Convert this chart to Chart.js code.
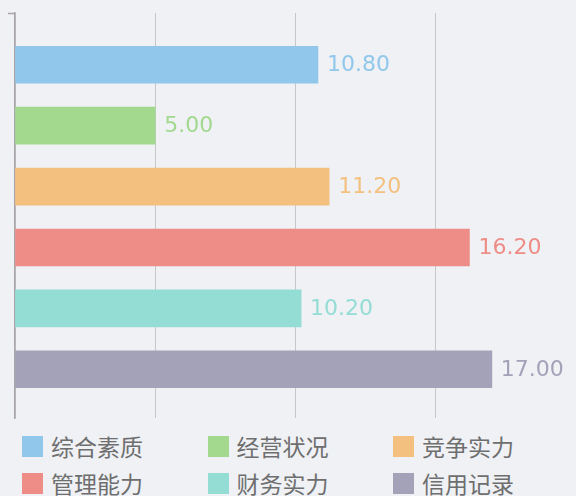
<!DOCTYPE html>
<html>
<head>
<meta charset="utf-8">
<script src="https://cdn.jsdelivr.net/npm/chart.js@4"></script>
<style>
  body { margin: 0; background: #eff1f5; width: 576px; height: 496px; overflow: hidden; position: relative; }
  #wrap { position: absolute; left: 0; top: 0; width: 576px; height: 425px; }
  #legend { position: absolute; left: 0; top: 436px; width: 576px; }
  .item { position: absolute; height: 21px; white-space: nowrap; }
  .box { position: absolute; left: 0; top: 0; width: 21px; height: 21px; }
  .txt { position: absolute; left: 29px; top: -5px; font: 23px "Noto Sans CJK SC", sans-serif; line-height: 30px; color: #6e6e6e; }
</style>
</head>
<body>
<div id="wrap"><canvas id="bars"></canvas></div>
<div id="legend"></div>
<script>
// 评分项目
var labels = ['综合素质', '经营状况', '竞争实力', '管理能力', '财务实力', '信用记录'];
var values = [10.8, 5.0, 11.2, 16.2, 10.2, 17.0];
var colors = ['#90c7ea', '#a2d98e', '#f3c07f', '#ee8d87', '#94ddd5', '#a3a2b9'];
var xTicks = [0, 5, 10, 15, 20];

// legend (html, 3 columns)
var legendDiv = document.getElementById('legend');
for (var i = 0; i < labels.length; i++) {
    var item = document.createElement('div');
    item.className = 'item';
    item.style.left = (22 + (i % 3) * 185.5) + 'px';
    item.style.top = (Math.floor(i / 3) * 37) + 'px';
    item.innerHTML = '<div class="box" style="background:' + colors[i] + '"></div><div class="txt">' + labels[i] + '</div>';
    legendDiv.appendChild(item);
}

// value text right of each bar + little tick at top of axis
var valueLabels = {
    id: 'valueLabels',
    afterDatasetsDraw: function (chart) {
        var ctx = chart.ctx;
        var meta = chart.getDatasetMeta(0);
        var area = chart.chartArea;
        ctx.save();
        ctx.strokeStyle = '#a8a6a8';
        ctx.lineWidth = 1.5;
        ctx.beginPath();
        ctx.moveTo(area.left - 7, area.top + 0.5);
        ctx.lineTo(area.left, area.top + 0.5);
        ctx.stroke();
        ctx.font = '22px "DejaVu Sans"';
        ctx.textBaseline = 'middle';
        ctx.textAlign = 'left';
        meta.data.forEach(function (bar, idx) {
            ctx.fillStyle = colors[idx];
            ctx.fillText(values[idx].toFixed(2), bar.x + 9, bar.y + 1);
        });
        ctx.restore();
    }
};

var ctx = document.getElementById('bars').getContext('2d');
new Chart(ctx, {
    type: 'bar',
    data: {
        labels: labels,
        datasets: [{
            data: values.map(function (v, i) { return { x: v, y: i }; }),
            backgroundColor: colors,
            borderWidth: 0,
            barThickness: 37
        }]
    },
    options: {
        indexAxis: 'y',
        responsive: true,
        maintainAspectRatio: false,
        animation: false,
        layout: { padding: { left: 15, top: 13, right: 0, bottom: 7 } },
        plugins: { legend: { display: false }, tooltip: { enabled: false } },
        scales: {
            x: {
                type: 'linear',
                min: 0,
                max: 20,
                afterBuildTicks: function (axis) { axis.ticks = xTicks.map(function (v) { return { value: v }; }); },
                ticks: { display: false },
                grid: { color: '#c9c6c8', lineWidth: 1, drawTicks: false },
                border: { display: false }
            },
            y: {
                type: 'linear',
                offset: false,
                min: -0.85,
                max: 5.8,
                reverse: true,
                ticks: { display: false },
                grid: { display: false, drawTicks: false, offset: false },
                border: { display: true, color: '#a8a6a8', width: 1.5 }
            }
        }
    },
    plugins: [valueLabels]
});
</script>
</body>
</html>
